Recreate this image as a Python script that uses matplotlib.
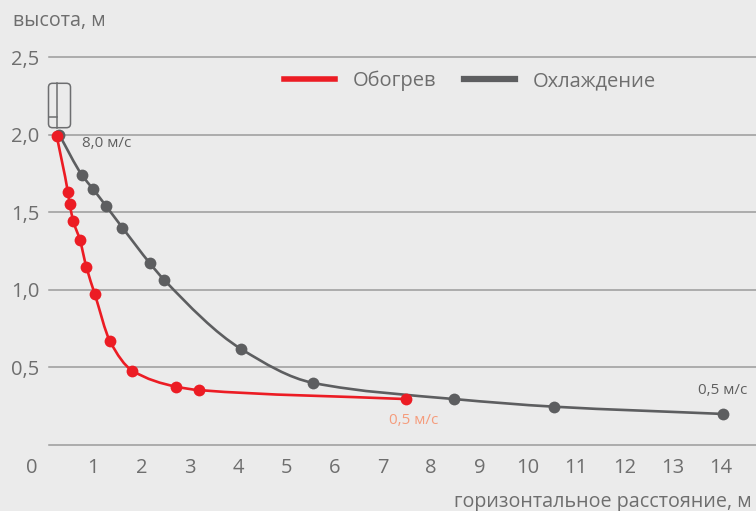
import numpy as np
import matplotlib
matplotlib.use("Agg")
import matplotlib.pyplot as plt
from matplotlib.path import Path
from matplotlib.patches import PathPatch, FancyBboxPatch
from matplotlib.lines import Line2D
from matplotlib.transforms import IdentityTransform, ScaledTranslation

# ---------------- data ----------------
heat_x = [0.25, 0.48, 0.52, 0.59, 0.73, 0.86, 1.04, 1.35, 1.81, 2.72, 3.19, 7.48]
heat_y = [1.99, 1.63, 1.55, 1.445, 1.32, 1.15, 0.97, 0.67, 0.48, 0.376, 0.354, 0.296]
cool_x = [0.30, 0.77, 1.00, 1.27, 1.61, 2.18, 2.47, 4.06, 5.56, 8.48, 10.54, 14.05]
cool_y = [2.00, 1.74, 1.65, 1.54, 1.40, 1.17, 1.065, 0.62, 0.40, 0.296, 0.247, 0.20]
x_ticks = list(range(0, 15))
y_ticks = [0.5, 1.0, 1.5, 2.0, 2.5]
y_tick_labels = ["0,5", "1,0", "1,5", "2,0", "2,5"]
series_names = ["Обогрев", "Охлаждение"]

RED = "#ec1c24"
GREY = "#5d5e60"
TXT = "#6e6e6e"
BG = "#ebebeb"
FONT = "Open Sans"
plt.rcParams["font.family"] = [FONT, "DejaVu Sans"]

W, H = 756, 511
fig = plt.figure(figsize=(W / 100, H / 100), dpi=100, facecolor=BG)
x0_px, ppx = 44.7, 48.3
y0_px, ppy = 445.0, 155.2
left = x0_px / W
right_val = (W - x0_px) / ppx
bottom = (H - y0_px) / H
height = 2.5 * ppy / H
ax = fig.add_axes([left, bottom, 1 - left, height], facecolor=BG)
ax.set_xlim(0, right_val)
ax.set_ylim(0, 2.5)
for s in ax.spines.values():
    s.set_visible(False)

# gridlines
gx0 = (49 - x0_px) / (W - x0_px)
for yv in [0.0] + y_ticks:
    ax.axhline(yv, xmin=gx0, xmax=1, color="#9b9b9b", lw=1.1, zorder=1, clip_on=False)

# ticks
ax.set_xticks(x_ticks)
ax.set_xticklabels([str(v) for v in x_ticks])
ax.set_yticks(y_ticks)
ax.set_yticklabels(y_tick_labels)
ax.tick_params(axis="both", length=0, labelcolor=TXT, labelsize=14.5)
ax.tick_params(axis="x", pad=9.5)
ax.tick_params(axis="y", pad=4)
for lab in ax.get_xticklabels():
    if lab.get_text() == "0":
        lab.set_transform(lab.get_transform() + ScaledTranslation(-12.7 / 100, 0, fig.dpi_scale_trans))


def hermite_path(xs, ys):
    xs = np.asarray(xs, float)
    ys = np.asarray(ys, float)
    h = np.diff(xs)
    d = np.diff(ys) / h
    m = np.zeros_like(xs)
    m[0], m[-1] = d[0], d[-1]
    for i in range(1, len(xs) - 1):
        if d[i - 1] * d[i] <= 0:
            m[i] = 0
        else:
            w1 = 2 * h[i] + h[i - 1]
            w2 = h[i] + 2 * h[i - 1]
            m[i] = (w1 + w2) / (w1 / d[i - 1] + w2 / d[i])
    verts = [(xs[0], ys[0])]
    codes = [Path.MOVETO]
    for i in range(len(xs) - 1):
        hh = h[i] / 3
        verts += [(xs[i] + hh, ys[i] + hh * m[i]),
                  (xs[i + 1] - hh, ys[i + 1] - hh * m[i + 1]),
                  (xs[i + 1], ys[i + 1])]
        codes += [Path.CURVE4] * 3
    return Path(verts, codes)


for xs, ys, c, z in [(cool_x, cool_y, GREY, 3), (heat_x, heat_y, RED, 4)]:
    ax.add_patch(PathPatch(hermite_path(xs, ys), fill=False, edgecolor=c, lw=1.9,
                           zorder=z, capstyle="round", clip_on=False))
    ax.plot(xs, ys, "o", color=c, ms=8.5, mec="none", zorder=z + 0.5, clip_on=False)

# annotations
ax.text(0.77, 1.94, "8,0 м/с", color="#5f5f5f", fontsize=11, va="center", ha="left")
ax.text(7.13, 0.157, "0,5 м/с", color="#f59c7c", fontsize=11, va="center", ha="left")
ax.text(13.53, 0.354, "0,5 м/с", color="#5f5f5f", fontsize=11, va="center", ha="left")

# unit icon (display pixels)
it = IdentityTransform()
ic = "#6d6e70"
fig.patches.append(FancyBboxPatch((48.5, H - 127.7), 22.0, 44.4,
                                  boxstyle="round,pad=0,rounding_size=4",
                                  fill=False, ec=ic, lw=1.1, transform=it, figure=fig))
fig.lines.append(Line2D([56.7, 56.7], [H - 127.7, H - 83.3], color=ic, lw=1.1, transform=it, figure=fig))
fig.lines.append(Line2D([48.5, 56.7], [H - 117.3, H - 117.3], color=ic, lw=1.1, transform=it, figure=fig))

# legend
handles = [Line2D([], [], color=RED, lw=4), Line2D([], [], color=GREY, lw=4.5)]
fs = 14.5
fpx = fs * 100 / 72
leg = fig.legend(handles, series_names, loc="center left",
                 bbox_to_anchor=(284 / W, 1 - 81 / H), ncol=2, frameon=False,
                 fontsize=fs, handlelength=51 / fpx, handletextpad=18 / fpx,
                 columnspacing=27 / fpx, borderpad=0, borderaxespad=0,
                 labelcolor=TXT)

# axis titles
fig.text(13 / W, 1 - 26 / H, "высота, м", color=TXT, fontsize=14.2, ha="left", va="baseline")
fig.text(752 / W, 3.5 / H, "горизонтальное расстояние, м", color=TXT, fontsize=14.2,
         ha="right", va="baseline")

fig.savefig("out.png", dpi=100, facecolor=BG)
